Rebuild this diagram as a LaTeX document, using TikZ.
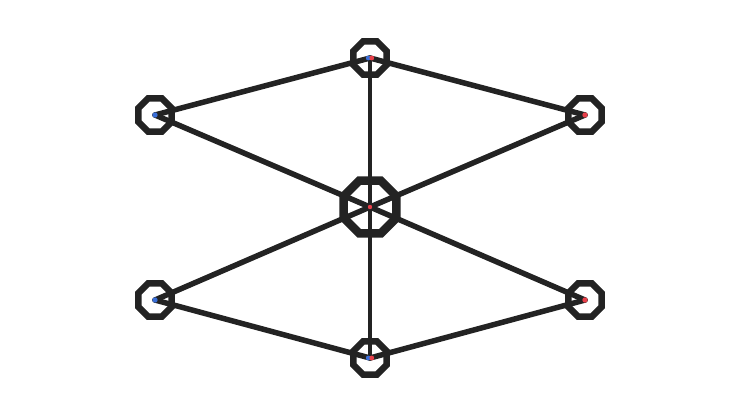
\documentclass[tikz,border=0pt]{standalone}
\usetikzlibrary{shapes.geometric}
\definecolor{edgegray}{HTML}{232323}
\definecolor{capblue}{HTML}{3A6FD8}
\definecolor{capred}{HTML}{E8404A}
\tikzset{
  vert/.style={draw=edgegray, line width=6.5pt, regular polygon, regular polygon sides=8, minimum size=36pt, inner sep=0pt},
  hub/.style={vert, line width=8.5pt, minimum size=57pt},
  link/.style={draw=edgegray, line width=5.5pt, line cap=round}
}
\begin{document}
\begin{tikzpicture}[x=1pt, y=-1pt]
    \useasboundingbox (0,0) rectangle (740,416);
    \node[vert] (top) at (370, 58) {};
    \node[vert] (lu) at (155, 115) {};
    \node[vert] (ru) at (585, 115) {};
    \node[hub] (mid) at (370, 207) {};
    \node[vert] (ld) at (155, 300) {};
    \node[vert] (rd) at (585, 300) {};
    \node[vert] (bot) at (370, 358) {};

    \draw[link] (lu.center) -- (top.center);
    \draw[link] (top.center) -- (ru.center);
    \draw[link, line width=4.5pt] (top.center) -- (mid.center);
    \draw[link, line width=4.5pt] (mid.center) -- (bot.center);
    \draw[link] (lu.center) -- (mid.center);
    \draw[link] (mid.center) -- (rd.center);
    \draw[link] (ru.center) -- (mid.center);
    \draw[link] (mid.center) -- (ld.center);
    \draw[link] (ld.center) -- (bot.center);
    \draw[link] (bot.center) -- (rd.center);

    \fill[capblue] (lu.center) circle (2.7);
    \fill[capblue] (ld.center) circle (2.7);
    \fill[capred] (ru.center) circle (2.7);
    \fill[capred] (rd.center) circle (2.7);
    \fill[capred] (mid.center) circle (2.2);
    \fill[capblue] ([xshift=-1.8pt]top.center) circle (2.4);
    \fill[capred] ([xshift=1.8pt]top.center) circle (2.4);
    \fill[capblue] ([xshift=-1.8pt]bot.center) circle (2.4);
    \fill[capred] ([xshift=1.8pt]bot.center) circle (2.4);
\end{tikzpicture}
\end{document}
